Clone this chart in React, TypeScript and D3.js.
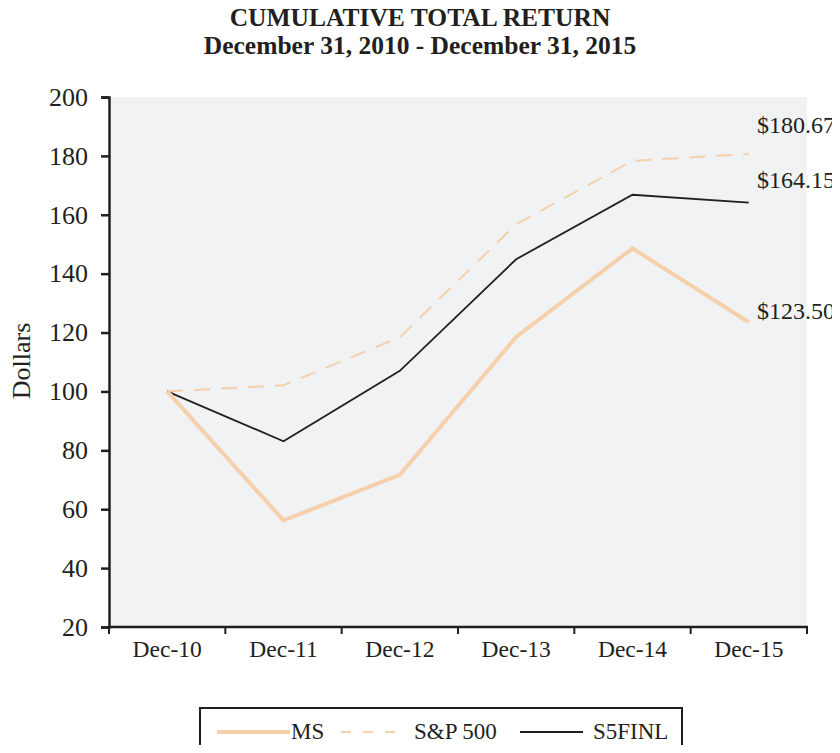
import React, { useEffect, useRef } from 'react'
import * as d3 from 'd3'

const categories = ['Dec-10', 'Dec-11', 'Dec-12', 'Dec-13', 'Dec-14', 'Dec-15']
const msValues = [100, 56.2, 71.7, 118.5, 148.6, 123.5]
const spValues = [100, 102.1, 118.4, 156.8, 178.3, 180.67]
const finlValues = [100, 83.1, 107.0, 144.9, 166.8, 164.15]
const endLabels = ['$180.67', '$164.15', '$123.50']
const yTicks = [20, 40, 60, 80, 100, 120, 140, 160, 180, 200]

const PEACH = '#f6d0aa'
const INK = '#231f20'
const FONT = '"Liberation Serif", "Times New Roman", serif'

function drawChart(el: SVGSVGElement) {
    const svg = d3.select(el)
    svg.selectAll('*').remove()
    svg.attr('width', 840).attr('height', 753).style('display', 'block')
        .style('font-family', FONT)

    const left = 109, right = 807, top = 97, bottom = 627

    const x = d3.scaleBand().domain(categories).range([left, right])
    const y = d3.scaleLinear().domain([20, 200]).range([bottom, top])

    // title
    svg.append('text').attr('x', 420).attr('y', 26).attr('text-anchor', 'middle')
        .attr('font-weight', 'bold').attr('font-size', 25.5).attr('fill', INK)
        .text('CUMULATIVE TOTAL RETURN')
    svg.append('text').attr('x', 420).attr('y', 54).attr('text-anchor', 'middle')
        .attr('font-weight', 'bold').attr('font-size', 25.5).attr('fill', INK)
        .text('December 31, 2010 - December 31, 2015')

    // plot background
    svg.append('rect').attr('x', left).attr('y', top)
        .attr('width', right - left).attr('height', bottom - top)
        .attr('fill', '#f0f2f4')

    // y axis
    const yAxis = svg.append('g').attr('transform', `translate(${left},0)`)
        .call(d3.axisLeft(y).tickValues(yTicks).tickSize(8).tickPadding(13))
    yAxis.select('.domain').attr('stroke', INK).attr('stroke-width', 2.5)
    yAxis.selectAll('.tick line').attr('stroke', INK).attr('stroke-width', 2.5)
    yAxis.selectAll('.tick text').attr('font-size', 26).attr('fill', INK)
        .attr('font-family', FONT)

    // x axis with ticks at band boundaries
    const xAxis = svg.append('g').attr('transform', `translate(0,${bottom})`)
    xAxis.append('line').attr('x1', left - 1).attr('x2', right + 1)
        .attr('stroke', INK).attr('stroke-width', 2.5)
    const bounds = categories.map(c => x(c) as number).concat([right])
    xAxis.selectAll('line.tk').data(bounds).join('line').attr('class', 'tk')
        .attr('x1', d => d).attr('x2', d => d).attr('y1', 0).attr('y2', 7)
        .attr('stroke', INK).attr('stroke-width', 2)
    xAxis.selectAll('text').data(categories).join('text')
        .attr('x', d => (x(d) as number) + x.bandwidth() / 2).attr('y', 30)
        .attr('text-anchor', 'middle').attr('font-size', 23.5).attr('fill', INK)
        .text(d => d)

    // y label
    svg.append('text').attr('transform', 'translate(30,361) rotate(-90)')
        .attr('text-anchor', 'middle').attr('font-size', 26).attr('fill', INK)
        .text('Dollars')

    const cx = (i: number) => (x(categories[i]) as number) + x.bandwidth() / 2
    const line = d3.line<number>().x((d, i) => cx(i)).y(d => y(d))

    svg.append('path').datum(spValues).attr('d', line).attr('fill', 'none')
        .attr('stroke', PEACH).attr('stroke-width', 2).attr('stroke-dasharray', '16,11')
    svg.append('path').datum(finlValues).attr('d', line).attr('fill', 'none')
        .attr('stroke', INK).attr('stroke-width', 1.8)
    svg.append('path').datum(msValues).attr('d', line).attr('fill', 'none')
        .attr('stroke', PEACH).attr('stroke-width', 4)

    const lastVals = [spValues[5], finlValues[5], msValues[5]]
    const offsets = [-21, -15, -3]
    svg.selectAll('text.end').data(endLabels).join('text').attr('class', 'end')
        .attr('x', 757).attr('y', (d, i) => y(lastVals[i]) + offsets[i])
        .attr('font-size', 24).attr('fill', INK).text(d => d)

    // legend
    const lg = svg.append('g')
    lg.append('rect').attr('x', 200).attr('y', 708).attr('width', 482).attr('height', 60)
        .attr('fill', 'white').attr('stroke', INK).attr('stroke-width', 2)
    const ly = 732
    lg.append('line').attr('x1', 217).attr('x2', 290).attr('y1', ly).attr('y2', ly)
        .attr('stroke', PEACH).attr('stroke-width', 4)
    lg.append('line').attr('x1', 341).attr('x2', 403).attr('y1', ly).attr('y2', ly)
        .attr('stroke', PEACH).attr('stroke-width', 2).attr('stroke-dasharray', '10,12')
    lg.append('line').attr('x1', 520).attr('x2', 583).attr('y1', ly).attr('y2', ly)
        .attr('stroke', INK).attr('stroke-width', 1.8)
    const legNames = [['MS', 291], ['S&P 500', 414], ['S5FINL', 593]] as [string, number][]
    lg.selectAll('text').data(legNames).join('text')
        .attr('x', d => d[1]).attr('y', 739).attr('font-size', 23).attr('fill', INK)
        .text(d => d[0])
}

const App = () => {
    const ref = useRef<SVGSVGElement>(null)
    useEffect(() => {
        if (ref.current) drawChart(ref.current)
    })
    return (
        <div style={{ margin: -8 }}>
            <svg ref={ref}></svg>
        </div>
    )
}

export default App
